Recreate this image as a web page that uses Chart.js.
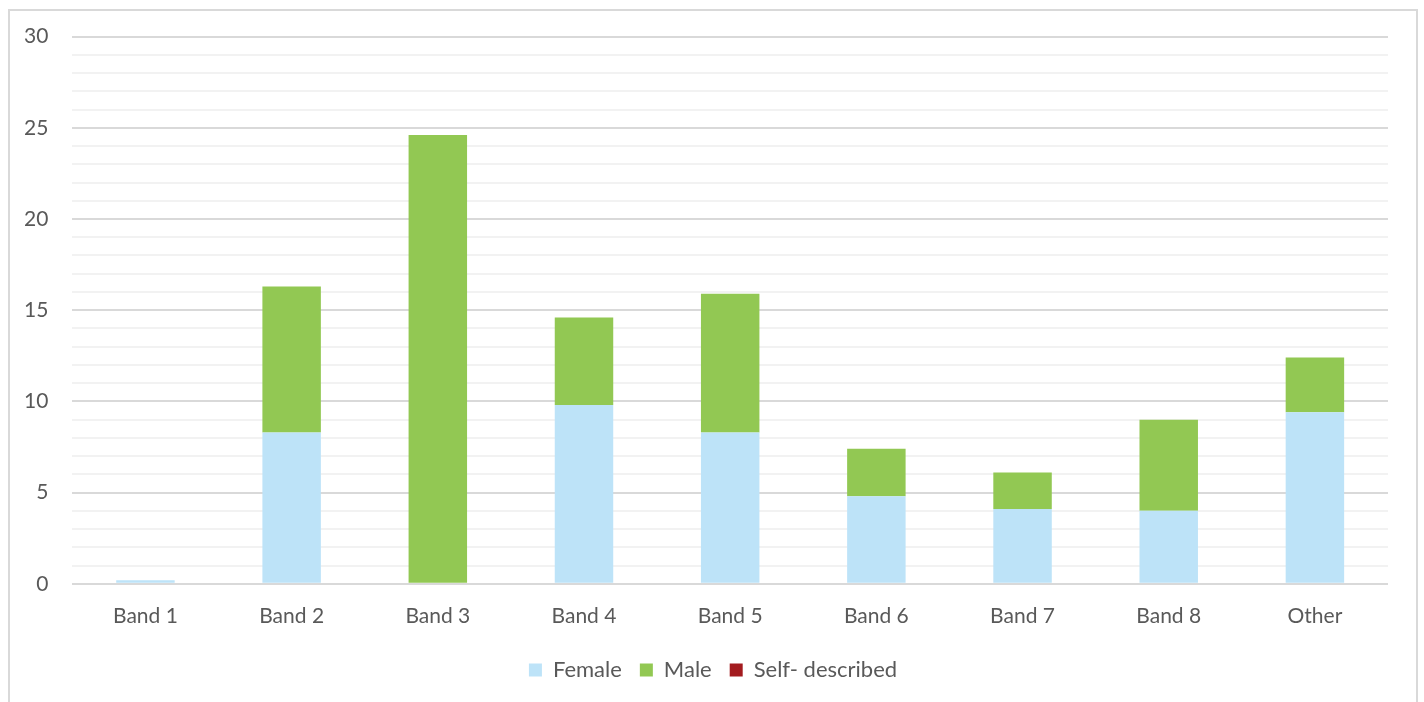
<!DOCTYPE html>
<html>
<head>
<meta charset="utf-8">
<script src="https://cdn.jsdelivr.net/npm/chart.js@4"></script>
<style>
  html, body { margin: 0; padding: 0; background: #fff; }
  .frame {
    position: absolute; left: 8px; top: 9px; width: 1406px; height: 700px;
    border: 2px solid #d9d9d9; border-bottom: none;
  }
  .wrap { position: absolute; left: 0; top: 0; width: 1424px; height: 702px; }
</style>
</head>
<body>
<div class="frame"></div>
<div class="wrap"><canvas id="myChart"></canvas></div>
<script>
const bands = ["Band 1", "Band 2", "Band 3", "Band 4", "Band 5", "Band 6", "Band 7", "Band 8", "Other"];
const female = [0.2, 8.3, 0, 9.8, 8.3, 4.8, 4.1, 4.0, 9.4];
const male = [0, 8.0, 24.6, 4.8, 7.6, 2.6, 2.0, 5.0, 3.0];
const selfDescribed = [0, 0, 0, 0, 0, 0, 0, 0, 0];

const textColor = "#595959";
const font = { family: "Lato, 'Open Sans', sans-serif", size: 21 };

// legend sits centred on the whole frame, not on the padded chart box
const legendShift = {
  id: "legendShift",
  afterLayout(chart) {
    chart.legend.left += 19;
    chart.legend.right += 19;
  },
};

new Chart(document.getElementById("myChart"), {
  type: "bar",
  data: {
    labels: bands,
    datasets: [
      { label: "Female", data: female, backgroundColor: "#bde3f8" },
      { label: "Male", data: male, backgroundColor: "#92c853" },
      { label: "Self- described", data: selfDescribed, backgroundColor: "#a31b1f" },
    ],
  },
  plugins: [legendShift],
  options: {
    responsive: true,
    maintainAspectRatio: false,
    animation: false,
    barPercentage: 0.4,
    categoryPercentage: 1,
    layout: { padding: { left: 0, right: 36, top: 32, bottom: 11 } },
    plugins: {
      tooltip: { enabled: false },
      legend: {
        position: "bottom",
        labels: {
          color: textColor,
          font: { family: font.family, size: 22 },
          boxWidth: 13,
          boxHeight: 13,
          padding: 18,
        },
      },
    },
    scales: {
      x: {
        stacked: true,
        grid: { display: false },
        border: { display: false },
        ticks: { color: textColor, font: font, padding: 12 },
      },
      y: {
        stacked: true,
        min: 0,
        max: 30,
        border: { display: false },
        grid: {
          drawTicks: false,
          lineWidth: 2,
          color: (ctx) => (ctx.tick && ctx.tick.value % 5 === 0 ? "#d9d9d9" : "#f2f2f2"),
        },
        ticks: {
          stepSize: 1,
          autoSkip: false,
          color: textColor,
          font: font,
          padding: 24,
          callback: (v) => (v % 5 === 0 ? v : ""),
        },
      },
    },
  },
});
</script>
</body>
</html>
